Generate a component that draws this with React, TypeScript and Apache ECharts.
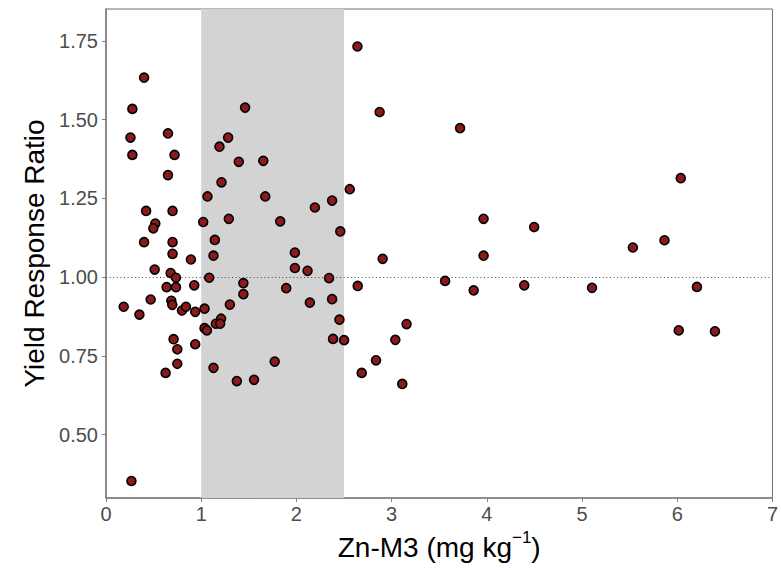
import React, { useEffect, useRef } from "react";
import * as echarts from "echarts";

// Zn-M3 (mg kg-1) values
const xValues = [
  0.400, 0.277, 0.257, 0.277, 0.651, 0.720, 0.651, 0.421, 0.518, 0.497,
  0.400, 0.699, 0.699, 0.699, 0.892, 0.511, 0.679, 0.735, 1.461, 1.283,
  1.192, 1.395, 1.652, 1.213, 1.066, 1.021, 1.290, 1.143, 1.129, 1.084,
  1.443, 0.637, 0.735, 0.927, 1.443, 0.186, 0.351, 0.469, 0.686, 0.696,
  0.798, 0.840, 0.937, 1.035, 1.035, 1.060, 1.154, 1.209, 1.199, 1.301,
  0.710, 0.749, 0.749, 0.937, 0.626, 1.129, 1.374, 1.555, 0.267,
  2.641, 2.874, 1.673, 2.194, 2.375, 2.560, 1.830, 2.461, 1.984, 1.984,
  2.117, 2.906, 2.343, 1.893, 2.644, 2.141, 2.375, 2.452, 3.157, 2.385,
  2.501, 3.039, 1.772, 2.836, 2.686, 3.112,
  3.719, 3.966, 4.497, 3.966, 3.562, 3.862, 4.393, 6.037, 5.866, 5.534,
  5.105, 6.207, 6.016, 6.396,
];

// Yield response ratio values
const yValues = [
  1.633, 1.534, 1.443, 1.388, 1.456, 1.388, 1.324, 1.210, 1.170, 1.155,
  1.111, 1.210, 1.111, 1.074, 1.056, 1.024, 1.013, 0.998, 1.538, 1.443,
  1.414, 1.366, 1.369, 1.301, 1.256, 1.175, 1.185, 1.118, 1.068, 0.998,
  0.981, 0.968, 0.968, 0.974, 0.946, 0.906, 0.881, 0.929, 0.925, 0.912,
  0.894, 0.906, 0.890, 0.900, 0.838, 0.831, 0.852, 0.868, 0.852, 0.913,
  0.803, 0.771, 0.725, 0.787, 0.696, 0.712, 0.670, 0.674, 0.353,
  1.732, 1.524, 1.256, 1.221, 1.243, 1.279, 1.177, 1.145, 1.078, 1.029,
  1.020, 1.058, 0.997, 0.965, 0.972, 0.919, 0.930, 0.865, 0.851, 0.804,
  0.800, 0.801, 0.732, 0.736, 0.696, 0.661,
  1.473, 1.185, 1.159, 1.068, 0.988, 0.958, 0.974, 1.314, 1.117, 1.094,
  0.966, 0.969, 0.831, 0.828,
];

const yTicks = [0.5, 0.75, 1.0, 1.25, 1.5, 1.75];
const xTicks = [0, 1, 2, 3, 4, 5, 6, 7];
const bandRange = [1, 2.5];
const referenceY = 1.0;

const FONT = "Liberation Sans, Arial, sans-serif";

export default function App() {
  const ref = useRef<HTMLDivElement>(null);

  useEffect(() => {
    if (!ref.current) return;
    const chart = echarts.init(ref.current, null, { renderer: "svg" });
    const points = xValues.map((x, i) => [x, yValues[i]]);

    chart.setOption({
      animation: false,
      backgroundColor: "#ffffff",
      textStyle: { fontFamily: FONT },
      grid: {
        left: 106,
        top: 9,
        right: 7,
        bottom: 72,
        show: true,
        borderColor: "#6e6e6e",
        borderWidth: 1,
        backgroundColor: "transparent",
      },
      xAxis: {
        type: "value",
        min: 0,
        max: 7,
        interval: 1,
        axisLine: { show: true, onZero: false, lineStyle: { color: "#808080", width: 1.6 } },
        axisTick: { show: true, length: 4, lineStyle: { color: "#808080", width: 1 }, customValues: xTicks },
        axisLabel: {
          fontSize: 20,
          color: "#4d4d4d",
          margin: 6,
          fontFamily: FONT,
          customValues: xTicks,
        },
        splitLine: { show: false },
        name: "{main|Zn-M3 (mg kg}{sup|\u22121}{main|)}",
        nameLocation: "middle",
        nameGap: 32,
        nameTextStyle: {
          fontFamily: FONT,
          color: "#000000",
          rich: {
            main: { fontSize: 28, lineHeight: 28, verticalAlign: "bottom", fontFamily: FONT, color: "#000" },
            sup: {
              fontSize: 17,
              lineHeight: 17,
              verticalAlign: "bottom",
              padding: [0, 0, 16, 0],
              fontFamily: FONT,
              color: "#000",
            },
          },
        },
      },
      yAxis: {
        type: "value",
        min: 0.299,
        max: 1.851,
        axisLine: { show: true, onZero: false, lineStyle: { color: "#808080", width: 1.6 } },
        axisTick: { show: true, length: 4, lineStyle: { color: "#808080", width: 1 }, customValues: yTicks },
        axisLabel: {
          fontSize: 20,
          color: "#4d4d4d",
          margin: 8,
          fontFamily: FONT,
          customValues: yTicks,
          formatter: (v: number) => v.toFixed(2),
        },
        splitLine: { show: false },
        name: "Yield Response Ratio",
        nameLocation: "middle",
        nameGap: 54,
        nameTextStyle: { fontSize: 28, color: "#000000", fontFamily: FONT },
      },
      series: [
        {
          type: "line",
          data: [],
          silent: true,
          z: 1,
          markArea: {
            silent: true,
            itemStyle: { color: "#d3d3d3" },
            data: [[{ xAxis: bandRange[0] }, { xAxis: bandRange[1] }]],
          },
          markLine: {
            silent: true,
            symbol: ["none", "none"],
            label: { show: false },
            lineStyle: { color: "#444444", width: 1, type: [1, 2.6] },
            data: [{ yAxis: referenceY }],
          },
        },
        {
          type: "scatter",
          z: 3,
          data: points,
          symbol: "circle",
          symbolSize: 9,
          itemStyle: { color: "#8b1a1a", borderColor: "#000000", borderWidth: 1.6, opacity: 1 },
        },
      ],
    });

    return () => chart.dispose();
  }, []);

  return (
    <div
      ref={ref}
      style={{ position: "absolute", left: 0, top: 0, width: 781, height: 570 }}
    />
  );
}
